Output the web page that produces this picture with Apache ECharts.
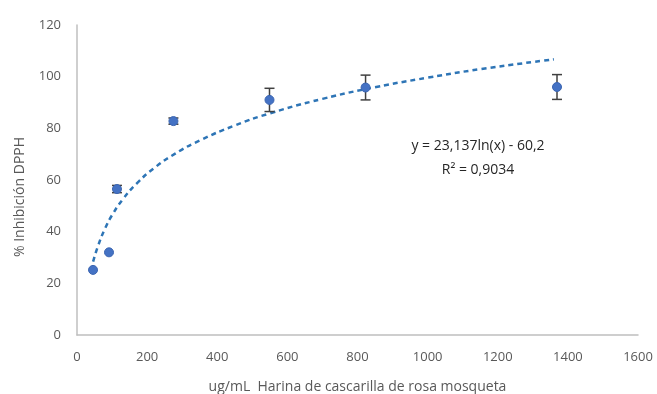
<!DOCTYPE html>
<html>
<head>
<meta charset="utf-8">
<script src="https://cdn.jsdelivr.net/npm/echarts@6/dist/echarts.min.js"></script>
<style>
  html, body { margin: 0; padding: 0; background: #fff; }
  #chart { width: 657px; height: 394px; }
</style>
</head>
<body>
<div id="chart"></div>
<script>
// concentraciones (ug/mL) y % inhibicion
const concX = [45.7, 91.3, 114, 275, 549, 823, 1369];
const inhibY = [25.2, 32, 56.5, 82.8, 91, 95.8, 96];
const errY = [0, 0, 1.4, 1.2, 4.5, 4.8, 4.8];
// linea de tendencia logaritmica
const trendX = [46, 60, 80, 100, 130, 170, 220, 280, 350, 450, 550, 700, 850, 1000, 1150, 1360];
const trendY = [28.4, 34.5, 41.2, 46.4, 52.4, 58.6, 64.6, 70.2, 75.3, 81.1, 85.8, 91.4, 95.9, 99.6, 102.9, 106.7];
const xTicks = [0, 200, 400, 600, 800, 1000, 1200, 1400, 1600];
const yTicks = [0, 20, 40, 60, 80, 100, 120];

const chart = echarts.init(document.getElementById('chart'));

const textColor = '#595959';
const font = 'Open Sans, Liberation Sans, sans-serif';

const option = {
  animation: false,
  grid: { left: 77, right: 19, top: 25, bottom: 59, outerBoundsMode: 'none', containLabel: false },
  xAxis: {
    type: 'value',
    min: xTicks[0],
    max: xTicks[xTicks.length - 1],
    interval: 200,
    name: 'ug/mL  Harina de cascarilla de rosa mosqueta',
    nameLocation: 'middle',
    nameGap: 45,
    nameTextStyle: { color: textColor, fontSize: 14, fontFamily: font },
    axisLine: { lineStyle: { color: '#BFBFBF', width: 1.5 } },
    axisTick: { show: false },
    axisLabel: { color: textColor, fontSize: 13, margin: 16, fontFamily: font, formatter: v => String(v) },
    splitLine: { show: false }
  },
  yAxis: {
    type: 'value',
    min: yTicks[0],
    max: yTicks[yTicks.length - 1],
    interval: 20,
    axisLine: { show: true, lineStyle: { color: '#BFBFBF', width: 1.5 } },
    axisTick: { show: false },
    axisLabel: { color: textColor, fontSize: 13, margin: 16, fontFamily: font, formatter: v => String(v) },
    splitLine: { show: false }
  },
  graphic: [
    {
      type: 'text',
      x: 20, y: 197,
      rotation: Math.PI / 2,
      style: {
        text: '% Inhibición DPPH',
        fill: textColor,
        font: '14px ' + font,
        align: 'center',
        verticalAlign: 'middle'
      }
    },
    {
      type: 'text',
      x: 478, y: 158,
      style: {
        text: 'y = 23,137ln(x) - 60,2\nR² = 0,9034',
        fill: '#262626',
        font: '500 14px ' + font,
        lineHeight: 24,
        align: 'center',
        verticalAlign: 'middle'
      }
    }
  ],
  series: [
    {
      type: 'line',
      data: trendX.map((x, i) => [x, trendY[i]]),
      smooth: true,
      showSymbol: false,
      lineStyle: { color: '#2E75B6', width: 2.5, type: [5, 4] },
      z: 2
    },
    {
      type: 'custom',
      data: concX.map((x, i) => [x, inhibY[i] - errY[i], inhibY[i] + errY[i]]),
      renderItem: (params, api) => {
        if (api.value(2) - api.value(1) <= 0) return null;
        const lo = api.coord([api.value(0), api.value(1)]);
        const hi = api.coord([api.value(0), api.value(2)]);
        const w = 5;
        const st = { stroke: '#404040', lineWidth: 1.5 };
        return {
          type: 'group',
          children: [
            { type: 'line', shape: { x1: lo[0], y1: lo[1], x2: hi[0], y2: hi[1] }, style: st },
            { type: 'line', shape: { x1: lo[0] - w, y1: lo[1], x2: lo[0] + w, y2: lo[1] }, style: st },
            { type: 'line', shape: { x1: hi[0] - w, y1: hi[1], x2: hi[0] + w, y2: hi[1] }, style: st }
          ]
        };
      },
      z: 3
    },
    {
      type: 'scatter',
      data: concX.map((x, i) => [x, inhibY[i]]),
      symbol: 'circle',
      symbolSize: 9,
      itemStyle: { color: '#4472C4', borderColor: '#3A64B0', borderWidth: 1, opacity: 1 },
      z: 4
    }
  ]
};

chart.setOption(option);
</script>
</body>
</html>
